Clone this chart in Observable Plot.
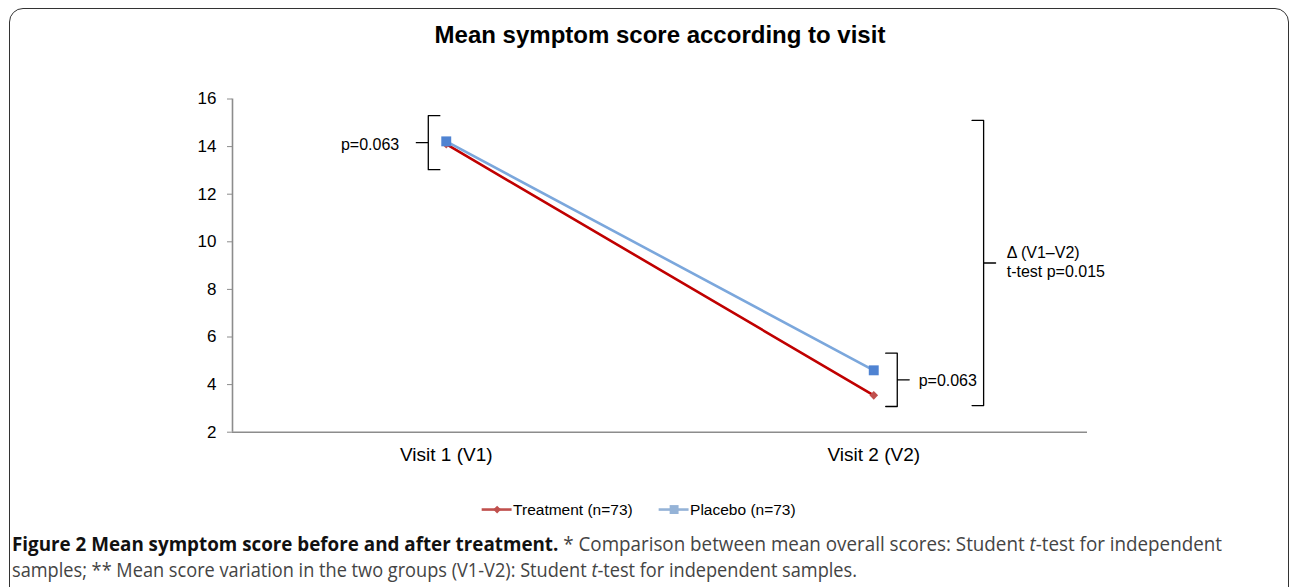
<!DOCTYPE html>
<html><head><meta charset="utf-8">
<script src="https://cdn.jsdelivr.net/npm/d3@7"></script>
<script src="https://cdn.jsdelivr.net/npm/@observablehq/plot@0.6"></script>
<style>
body{margin:0;background:#fff;}
#page{position:relative;width:1292px;height:587px;overflow:hidden;font-family:"Liberation Sans",Arial,sans-serif;background:#fff;}
#frame{position:absolute;left:9px;top:8px;width:1280px;height:660px;border:1.5px solid #333;border-radius:14px;box-sizing:border-box;}
#title{position:absolute;left:0;width:1320px;top:21px;text-align:center;font-weight:bold;font-size:24px;color:#000;}
#chart{position:absolute;left:0;top:60px;}
#caption{position:absolute;left:12px;top:531px;font-family:"Open Sans","Noto Sans",sans-serif;font-size:20px;line-height:26px;color:#444;white-space:nowrap;}
#caption span{display:block;transform-origin:0 0;width:max-content;}
#caption b{color:#111;}
</style>
</head><body>
<div id="page">
  <div id="frame"></div>
  <div id="title">Mean symptom score according to visit</div>
  <div id="chart"></div>
  <div id="caption"><span id="cap1"><b>Figure 2 Mean symptom score before and after treatment.</b> * Comparison between mean overall scores: Student <i>t</i>-test for independent</span><span id="cap2">samples; ** Mean score variation in the two groups (V1-V2): Student <i>t</i>-test for independent samples.</span></div>
</div>
<script>
// ---- data ----
const visitLabels = ["Visit 1 (V1)", "Visit 2 (V2)"];
const visitPos = [0, 1];
const seriesNames = ["Treatment (n=73)", "Placebo (n=73)"];
const treatmentScores = [14.1, 3.55];
const placeboScores = [14.22, 4.6];
const yTicks = [2, 4, 6, 8, 10, 12, 14, 16];

// ---- annotations (brackets with p-values) ----
const braceLabels = ["p=0.063", "p=0.063", "\u0394 (V1\u2013V2)\nt-test p=0.015"];
const braceX = [-0.042, 1.055, 1.257];
const braceTop = [15.3, 5.32, 15.1];
const braceBottom = [13.03, 3.08, 3.12];
const braceDir = [-1, 1, 1];
const braceLabelX = [-0.11, 1.105, 1.311];
const braceLabelY = [14.13, 4.21, 9.19];
const braceLabelAnchor = ["end", "start", "start"];

// ---- legend placement (data units, below the axis) ----
const legendY = -1.25;
const legendX1 = [0.084, 0.498];
const legendX2 = [0.154, 0.568];

// ---- colours ----
const lineColors = ["#c00000", "#7ba7dc"];
const markColors = ["#c0504d", "#4f83d2"];
const legendLineColors = ["#c0504d", "#95b3d7"];
const legendMarkColors = ["#c0504d", "#95b3d7"];
const symbols = ["diamond2", "square"];
const symbolR = [3.9, 5.6];

// build tables
const rows = [];
visitPos.forEach((v, i) => {
  rows.push({s: 0, visit: v, score: treatmentScores[i]});
  rows.push({s: 1, visit: v, score: placeboScores[i]});
});
const braceArm = 0.027, braceTick = 0.028;
const braceRows = [];
braceX.forEach((bx, k) => {
  const d = braceDir[k];
  const armX = bx - d * braceArm, tickX = bx + d * braceTick;
  const mid = (braceTop[k] + braceBottom[k]) / 2;
  [[armX, braceTop[k]], [bx, braceTop[k]], [bx, mid], [tickX, mid], [bx, mid], [bx, braceBottom[k]], [armX, braceBottom[k]]]
    .forEach(([x, y]) => braceRows.push({k, x, y}));
});
const braceText = braceLabels.map((t, k) => ({t, x: braceLabelX[k], y: braceLabelY[k], a: braceLabelAnchor[k]}));
const legendRows = seriesNames.map((name, i) => ({name, i, x1: legendX1[i], x2: legendX2[i], xm: (legendX1[i] + legendX2[i]) / 2}));

const marks = [
  Plot.ruleY([2], {x1: -0.5, x2: 1.5, stroke: "#8c8c8c", strokeWidth: 1.6}),
  Plot.ruleX([-0.5], {y1: 2, y2: 16, stroke: "#8c8c8c", strokeWidth: 1.6}),
  Plot.axisY({ticks: yTicks, tickSize: 5, tickPadding: 11, stroke: "#8c8c8c", fill: "#000", fontSize: 17, label: null}),
  Plot.axisX({ticks: visitPos, tickFormat: d => visitLabels[d], tickSize: 0, tickPadding: 15, fill: "#000", fontSize: 19, label: null})
];
[0, 1].forEach(s => {
  const r = rows.filter(d => d.s === s);
  marks.push(Plot.line(r, {x: "visit", y: "score", stroke: lineColors[s], strokeWidth: 2.6}));
  marks.push(Plot.dot(r, {x: "visit", y: "score", symbol: symbols[s], r: symbolR[s], fill: markColors[s], stroke: "none"}));
});
// brackets
marks.push(Plot.line(braceRows, {x: "x", y: "y", z: "k", stroke: "#000", strokeWidth: 1.3, strokeLinejoin: "round"}));
["end", "start"].forEach(a => {
  marks.push(Plot.text(braceText.filter(d => d.a === a), {x: "x", y: "y", text: "t", textAnchor: a, fontSize: 16, lineHeight: 1.2, fill: "#000"}));
});
// legend
legendRows.forEach(d => {
  marks.push(Plot.ruleY([d], {x1: "x1", x2: "x2", y: () => legendY, stroke: legendLineColors[d.i], strokeWidth: 2.6}));
  marks.push(Plot.dot([d], {x: "xm", y: () => legendY, symbol: symbols[d.i], r: symbolR[d.i] * 0.9, fill: legendMarkColors[d.i], stroke: "none"}));
  marks.push(Plot.text([d], {x: "x2", y: () => legendY, text: "name", textAnchor: "start", dx: 1, fontSize: 15.5, fill: "#000"}));
});

const chart = Plot.plot({
  width: 1292,
  height: 470,
  marginLeft: 232,
  marginRight: 205,
  marginTop: 38.5,
  marginBottom: 98.3,
  x: {type: "linear", domain: [-0.5, 1.5]},
  y: {domain: [2, 16]},
  style: {fontFamily: "'Liberation Sans', Arial, sans-serif", fontSize: "16px", color: "#000", background: "transparent", overflow: "visible"},
  marks
});
document.getElementById("chart").appendChild(chart);

// condense each caption line horizontally to the width it has in the reference
[["cap1", 1210], ["cap2", 845]].forEach(([id, target]) => {
  const el = document.getElementById(id);
  const w = el.getBoundingClientRect().width;
  el.style.transform = `scaleX(${target / w})`;
});
</script>
</body></html>
